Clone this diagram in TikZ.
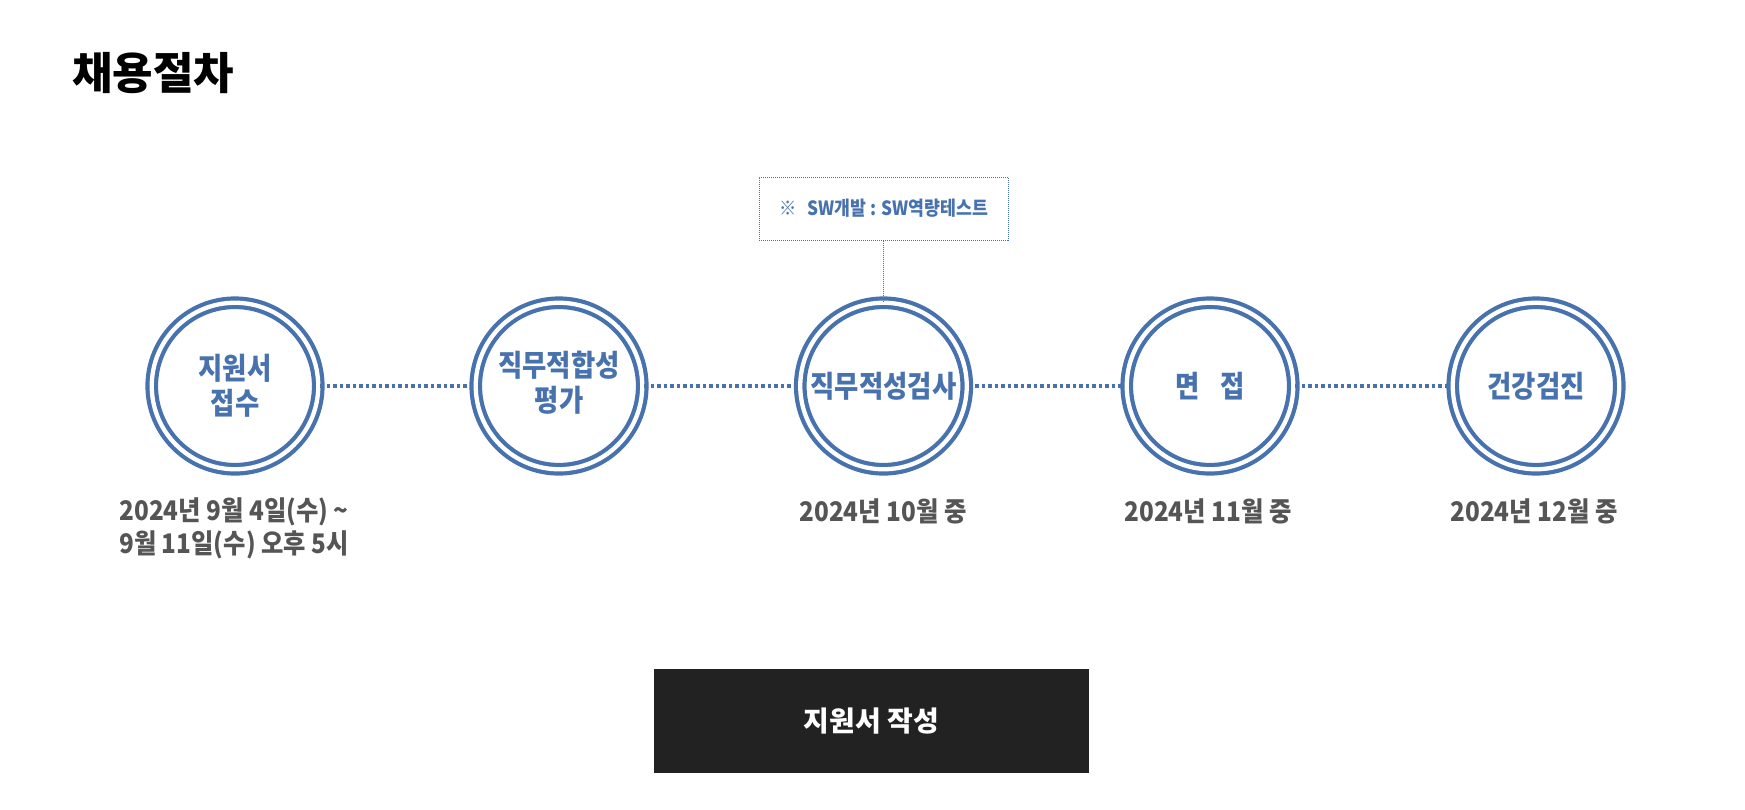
\documentclass[tikz,border=0pt]{standalone}
\usepackage{fontspec}
\newfontfamily\kr{Noto Sans CJK KR}
\newfontfamily\krn[FakeStretch=0.88]{Noto Sans CJK KR}
\newfontfamily\krd[FakeStretch=0.9]{Noto Sans CJK KR}
\definecolor{mblue}{RGB}{72,114,174}
\definecolor{dgray}{RGB}{85,85,85}
\definecolor{btn}{RGB}{34,34,34}
\tikzset{
  ring/.style={circle, draw=mblue, line width=4.2pt, double=white, double distance=4.3pt, minimum size=166.5pt, inner sep=0pt},
  ctext/.style={text=mblue, align=center, inner sep=0pt, font=\krn\bfseries\fontsize{30}{35}\selectfont},
  conn/.style={draw=mblue, line width=3.5pt, dash pattern=on 3.5pt off 3pt},
  datetext/.style={text=dgray, align=center, inner sep=0pt, font=\krd\bfseries\fontsize{27}{33}\selectfont},
  notebox/.style={draw=mblue, line width=1pt, densely dotted, minimum width=249pt, minimum height=63pt, inner sep=0pt, text=mblue, font=\krn\bfseries\fontsize{19.6}{21}\selectfont},
  link/.style={draw=mblue, line width=1pt, densely dotted},
  button/.style={fill=btn, minimum width=435pt, minimum height=104pt, inner sep=0pt, text=white, font=\kr\bfseries\fontsize{28}{32}\selectfont}
}
\begin{document}
\begin{tikzpicture}[x=1pt,y=-1pt]
\useasboundingbox (0,0) rectangle (1745,809);
% title
\node[anchor=west, inner sep=0pt, font=\kr\bfseries\fontsize{44}{48}\selectfont] (title) at (72,73) {채용절차};
% note box
\node[notebox] (note) at (883.5,208.5) {※\hspace{11pt}SW개발 : SW역량테스트};
% circles
\node[ring] (c1) at (235,386) {};
\node[ring] (c2) at (559,386) {};
\node[ring] (c3) at (883.5,386) {};
\node[ring] (c4) at (1210,386) {};
\node[ring] (c5) at (1536,386) {};
% connectors
\draw[conn] (c1) -- (c2);
\draw[conn] (c2) -- (c3);
\draw[conn] (c3) -- (c4);
\draw[conn] (c4) -- (c5);
\draw[link] (note.south) -- (c3.north);
% circle texts
\node[ctext] (t1) at (c1) {지원서\\접수};
\node[ctext] (t2) at ([yshift=3pt]c2.center) {직무적합성\\평가};
\node[ctext] (t3) at (c3) {직무적성검사};
\node[ctext] (t4) at (c4) {면\hspace{20pt}접};
\node[ctext] (t5) at (c5) {건강검진};
% dates
\node[datetext] (d1) at (234,528) {2024년 9월 4일(수) \textasciitilde\\9월 11일(수) 오후 5시};
\node[datetext] (d3) at (883,511) {2024년 10월 중};
\node[datetext] (d4) at (1208,511) {2024년 11월 중};
\node[datetext] (d5) at (1534,511) {2024년 12월 중};
% button
\node[button] (apply) at (871.5,721) {지원서 작성};
\end{tikzpicture}
\end{document}
